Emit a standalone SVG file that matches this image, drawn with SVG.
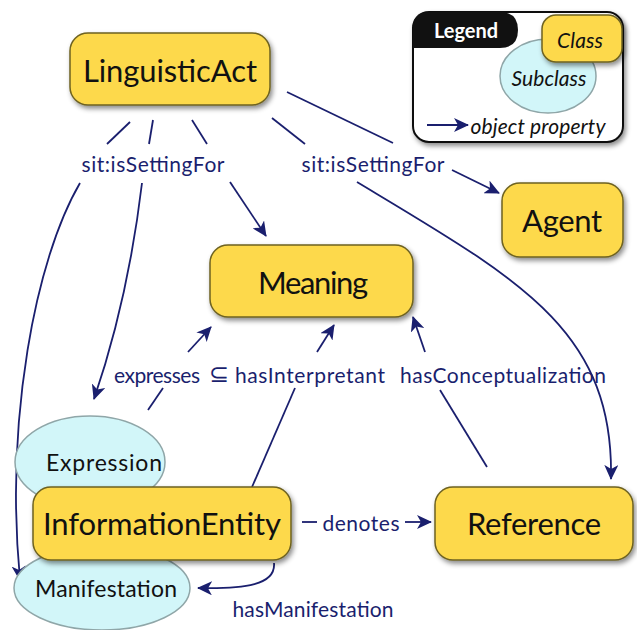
<svg xmlns="http://www.w3.org/2000/svg" width="637" height="630" viewBox="0 0 637 630">
<style>
.cls{fill:#fdd94c;stroke:#6e6220;stroke-width:1.5;filter:url(#sh)}
.sub{fill:#d2f6f9;stroke:#8fa6a8;stroke-width:1.5}
.nt{font-family:Lato,"Open Sans",sans-serif;fill:#111;text-anchor:middle;dominant-baseline:central}
.big{font-size:31px}
.et{font-family:Lato,"Open Sans",sans-serif;fill:#1a1f6e;font-size:21px;text-anchor:middle;dominant-baseline:central}
.e{fill:none;stroke:#1a1f6e;stroke-width:1.8}
.a{marker-end:url(#ah)}
</style>
<defs>
<filter id="sh" x="-20%" y="-20%" width="140%" height="150%">
<feDropShadow dx="2" dy="3" stdDeviation="2.5" flood-color="#000" flood-opacity="0.45"/>
</filter>
<marker id="ah" markerWidth="16" markerHeight="14" refX="14" refY="7" orient="auto" markerUnits="userSpaceOnUse">
<path d="M0,0 L15,7 L0,14 L4,7 Z" fill="#1a1f6e"/>
</marker>
</defs>
<rect width="637" height="630" fill="#fff"/>

<g id="legend">
<rect x="413" y="12" width="210" height="130" rx="16" fill="#fff" stroke="#111" stroke-width="2" filter="url(#sh)"/>
<path d="M413,48 L413,28 Q413,12 429,12 L500,12 Q518,12 518,30 Q518,48 500,48 Z" fill="#111"/>
<text x="466" y="30" class="nt" style="fill:#fff;font-weight:bold;font-size:20px">Legend</text>
<ellipse cx="548" cy="76" rx="48" ry="37" class="sub"/>
<text x="549" y="77" class="nt" style="font-style:italic;font-size:21px" textLength="75">Subclass</text>
<rect x="542" y="15" width="80" height="47" rx="14" class="cls"/>
<text x="580" y="39" class="nt" style="font-style:italic;font-size:21px" textLength="46">Class</text>
<path d="M427,125 L468,125" class="e a"/>
<text x="538" y="125" class="nt" style="font-style:italic;font-size:21px" textLength="135">object property</text>
</g>

<g id="connectors">
<path d="M130,122 L107,144" class="e"/>
<path d="M80,183 C 35,260 5,420 20,580" class="e a"/>
<path d="M153,120 L149,144" class="e"/>
<path d="M142,183 Q 128,300 94,399" class="e a"/>
<path d="M192,120 L207,144" class="e"/>
<path d="M230,182 L266,236" class="e a"/>
<path d="M287,92 L393,143" class="e"/>
<path d="M452,170 L499,193" class="e a"/>
<path d="M272,118 L305,144" class="e"/>
<path d="M357,182 C 520,280 614,330 611,479" class="e a"/>
<text x="153" y="163" class="et" textLength="143">sit:isSettingFor</text>
<text x="373" y="163" class="et" textLength="143">sit:isSettingFor</text>

<path d="M148,410 L163,388" class="e"/>
<path d="M188,352 L211,327" class="e a"/>
<path d="M252,487 L295,388" class="e"/>
<path d="M317,352 L334,325" class="e a"/>
<path d="M487,467 L440,390" class="e"/>
<path d="M425,352 L413,317" class="e a"/>
<text x="157" y="374" class="et" textLength="86">expresses</text>
<text x="219" y="372" class="et" style="font-size:24px">⊆</text>
<text x="310" y="374" class="et" textLength="150">hasInterpretant</text>
<text x="503" y="374" class="et" textLength="206">hasConceptualization</text>

<path d="M302,522 L317,522" class="e"/>
<path d="M405,522 L431,522" class="e a"/>
<text x="361" y="522" class="et" textLength="77">denotes</text>

<path d="M274,563 C 276,585 245,589 198,588" class="e a"/>
<text x="313" y="608" class="et" textLength="161">hasManifestation</text>
</g>

<g id="LinguisticAct">
<rect x="70" y="33" width="200" height="72" rx="18" class="cls"/>
<text x="170" y="70" class="nt big" textLength="174">LinguisticAct</text>
</g>
<g id="Agent">
<rect x="502" y="183" width="121" height="74" rx="18" class="cls"/>
<text x="562" y="220" class="nt big" textLength="80">Agent</text>
</g>
<g id="Meaning">
<rect x="210" y="245" width="203" height="72" rx="18" class="cls"/>
<text x="313" y="282" class="nt big" textLength="110">Meaning</text>
</g>
<g id="Expression">
<ellipse cx="90" cy="462" rx="75" ry="46" class="sub"/>
<text x="104" y="462" class="nt" style="font-size:23px" textLength="116">Expression</text>
</g>
<g id="Manifestation">
<ellipse cx="102" cy="588" rx="88" ry="42" class="sub"/>
<text x="106" y="588" class="nt" style="font-size:23px" textLength="142">Manifestation</text>
</g>
<g id="InformationEntity">
<rect x="33" y="487" width="258" height="73" rx="18" class="cls"/>
<text x="162" y="523" class="nt big" textLength="238">InformationEntity</text>
</g>
<g id="Reference">
<rect x="435" y="487" width="198" height="73" rx="18" class="cls"/>
<text x="534" y="523" class="nt big" textLength="134">Reference</text>
</g>
</svg>
